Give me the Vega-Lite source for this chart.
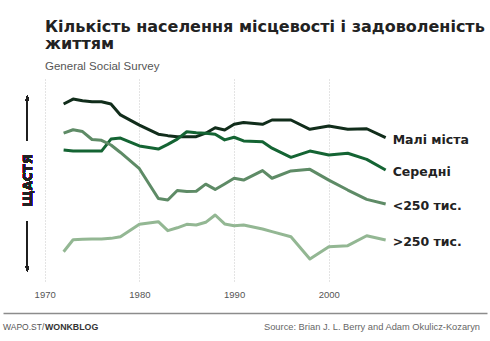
{
  "$schema": "https://vega.github.io/schema/vega-lite/v6.json",
  "background": "#ffffff",
  "padding": {"left": 3, "right": 3, "top": 19, "bottom": 0},
  "config": {"view": {"stroke": null}, "font": "Liberation Sans"},
  "title": {
    "text": ["Кількість населення місцевості і задоволеність", "життям"],
    "subtitle": "General Social Survey",
    "anchor": "start",
    "dx": 42,
    "font": "DejaVu Sans",
    "fontSize": 16,
    "fontWeight": "bold",
    "color": "#222222",
    "lineHeight": 17,
    "subtitleFont": "Liberation Sans",
    "subtitleFontSize": 11.5,
    "subtitleColor": "#555555",
    "subtitlePadding": 8.5,
    "offset": 7
  },
  "datasets": {
    "happy": [
      {"year":1972,"series":"Малі міста","value":87.7},{"year":1973,"series":"Малі міста","value":90.1},{"year":1974,"series":"Малі міста","value":89.3},{"year":1975,"series":"Малі міста","value":88.8},{"year":1976,"series":"Малі міста","value":88.8},{"year":1977,"series":"Малі міста","value":87.7},{"year":1978,"series":"Малі міста","value":82.3},{"year":1980,"series":"Малі міста","value":77.3},{"year":1982,"series":"Малі міста","value":72.8},{"year":1983,"series":"Малі міста","value":72.1},{"year":1984,"series":"Малі міста","value":71.6},{"year":1985,"series":"Малі міста","value":71.6},{"year":1986,"series":"Малі міста","value":71.6},{"year":1987,"series":"Малі міста","value":73.3},{"year":1988,"series":"Малі міста","value":76.0},{"year":1989,"series":"Малі міста","value":74.9},{"year":1990,"series":"Малі міста","value":77.7},{"year":1991,"series":"Малі міста","value":78.6},{"year":1993,"series":"Малі міста","value":77.7},{"year":1994,"series":"Малі міста","value":79.8},{"year":1996,"series":"Малі міста","value":79.8},{"year":1998,"series":"Малі міста","value":75.2},{"year":2000,"series":"Малі міста","value":76.8},{"year":2002,"series":"Малі міста","value":75.2},{"year":2004,"series":"Малі міста","value":75.5},{"year":2006,"series":"Малі міста","value":71.1},
      {"year":1972,"series":"Середні","value":65.0},{"year":1973,"series":"Середні","value":64.5},{"year":1974,"series":"Середні","value":64.5},{"year":1975,"series":"Середні","value":64.5},{"year":1976,"series":"Середні","value":64.5},{"year":1977,"series":"Середні","value":70.4},{"year":1978,"series":"Середні","value":70.9},{"year":1980,"series":"Середні","value":67.0},{"year":1982,"series":"Середні","value":65.5},{"year":1983,"series":"Середні","value":67.8},{"year":1984,"series":"Середні","value":70.4},{"year":1985,"series":"Середні","value":74.0},{"year":1986,"series":"Середні","value":73.5},{"year":1987,"series":"Середні","value":73.3},{"year":1988,"series":"Середні","value":72.8},{"year":1989,"series":"Середні","value":70.0},{"year":1990,"series":"Середні","value":71.3},{"year":1991,"series":"Середні","value":69.5},{"year":1993,"series":"Середні","value":69.1},{"year":1994,"series":"Середні","value":65.9},{"year":1996,"series":"Середні","value":61.4},{"year":1998,"series":"Середні","value":64.5},{"year":2000,"series":"Середні","value":62.6},{"year":2002,"series":"Середні","value":63.4},{"year":2004,"series":"Середні","value":60.4},{"year":2006,"series":"Середні","value":55.2},
      {"year":1972,"series":"<250 тис.","value":73.3},{"year":1973,"series":"<250 тис.","value":75.0},{"year":1974,"series":"<250 тис.","value":74.1},{"year":1975,"series":"<250 тис.","value":70.2},{"year":1976,"series":"<250 тис.","value":69.8},{"year":1977,"series":"<250 тис.","value":67.5},{"year":1978,"series":"<250 тис.","value":63.8},{"year":1980,"series":"<250 тис.","value":55.8},{"year":1982,"series":"<250 тис.","value":41.1},{"year":1983,"series":"<250 тис.","value":40.4},{"year":1984,"series":"<250 тис.","value":45.1},{"year":1985,"series":"<250 тис.","value":44.6},{"year":1986,"series":"<250 тис.","value":44.7},{"year":1987,"series":"<250 тис.","value":48.2},{"year":1988,"series":"<250 тис.","value":45.6},{"year":1989,"series":"<250 тис.","value":48.3},{"year":1990,"series":"<250 тис.","value":51.1},{"year":1991,"series":"<250 тис.","value":50.2},{"year":1993,"series":"<250 тис.","value":54.9},{"year":1994,"series":"<250 тис.","value":51.1},{"year":1996,"series":"<250 тис.","value":54.7},{"year":1998,"series":"<250 тис.","value":55.5},{"year":2000,"series":"<250 тис.","value":50.2},{"year":2002,"series":"<250 тис.","value":45.3},{"year":2004,"series":"<250 тис.","value":40.7},{"year":2006,"series":"<250 тис.","value":38.4},
      {"year":1972,"series":">250 тис.","value":14.9},{"year":1973,"series":">250 тис.","value":20.8},{"year":1974,"series":">250 тис.","value":21.0},{"year":1975,"series":">250 тис.","value":21.2},{"year":1976,"series":">250 тис.","value":21.2},{"year":1977,"series":">250 тис.","value":21.5},{"year":1978,"series":">250 тис.","value":22.3},{"year":1980,"series":">250 тис.","value":28.5},{"year":1982,"series":">250 тис.","value":29.7},{"year":1983,"series":">250 тис.","value":25.3},{"year":1984,"series":">250 тис.","value":26.7},{"year":1985,"series":">250 тис.","value":28.4},{"year":1986,"series":">250 тис.","value":28.1},{"year":1987,"series":">250 тис.","value":29.4},{"year":1988,"series":">250 тис.","value":33.0},{"year":1989,"series":">250 тис.","value":28.6},{"year":1990,"series":">250 тис.","value":27.7},{"year":1991,"series":">250 тис.","value":28.1},{"year":1993,"series":">250 тис.","value":26.1},{"year":1994,"series":">250 тис.","value":24.8},{"year":1996,"series":">250 тис.","value":22.3},{"year":1998,"series":">250 тис.","value":11.3},{"year":2000,"series":">250 тис.","value":17.4},{"year":2002,"series":">250 тис.","value":17.9},{"year":2004,"series":">250 тис.","value":22.8},{"year":2006,"series":">250 тис.","value":20.7}
    ],
    "footer": [{"k": 1}]
  },
  "spacing": 14,
  "vconcat": [
    {
      "width": 484,
      "height": 203,
      "data": {"name": "happy"},
      "layer": [
        {
          "mark": {"type": "line", "strokeWidth": 3, "strokeJoin": "round", "strokeCap": "butt"},
          "encoding": {
            "x": {"field": "year", "type": "quantitative",
                  "scale": {"domain": [1965.6, 2016.7], "nice": false, "zero": false},
                  "axis": {"values": [1970, 1980, 1990, 2000], "format": "d", "title": null,
                           "domain": false, "ticks": false, "grid": true, "gridColor": "#c8c8c8",
                           "gridDash": [1, 2], "gridWidth": 1, "labelFontSize": 9.5,
                           "labelColor": "#555555", "labelPadding": 7, "labelFont": "Liberation Sans"}},
            "y": {"field": "value", "type": "quantitative",
                  "scale": {"domain": [0, 100], "nice": false, "zero": false}, "axis": null},
            "color": {"field": "series", "type": "nominal", "legend": null,
                      "scale": {"domain": ["Малі міста", "Середні", "<250 тис.", ">250 тис."],
                                "range": ["#112d1b", "#146433", "#5e8b66", "#93b793"]}}
          }
        },
        {
          "transform": [{"filter": "datum.year == 2006"}],
          "mark": {"type": "text", "align": "left", "baseline": "middle", "dx": 7, "dy": 2,
                   "font": "DejaVu Sans", "fontWeight": "bold", "fontSize": 12.5, "color": "#222222"},
          "encoding": {
            "x": {"field": "year", "type": "quantitative"},
            "y": {"field": "value", "type": "quantitative"},
            "text": {"field": "series"}
          }
        },
        {
          "mark": {"type": "text", "text": "ЩАСТЯ", "angle": 270, "align": "center", "baseline": "middle",
                   "font": "DejaVu Sans", "fontWeight": "bold", "fontSize": 12, "color": "#222222"},
          "encoding": {
            "x": {"datum": 1968.2, "type": "quantitative"},
            "y": {"datum": 50, "type": "quantitative"}
          }
        },
        {
          "mark": {"type": "rule", "color": "#222222", "strokeWidth": 1},
          "encoding": {
            "x": {"datum": 1968.17, "type": "quantitative"},
            "y": {"datum": 91.5, "type": "quantitative"},
            "y2": {"datum": 69.5}
          }
        },
        {
          "mark": {"type": "rule", "color": "#222222", "strokeWidth": 1},
          "encoding": {
            "x": {"datum": 1968.17, "type": "quantitative"},
            "y": {"datum": 29.6, "type": "quantitative"},
            "y2": {"datum": 5.5}
          }
        },
        {
          "mark": {"type": "point", "filled": true, "color": "#222222", "opacity": 1, "size": 49,
                   "shape": "M0,-1L0.45,0.5L0,0.25L-0.45,0.5Z"},
          "encoding": {
            "x": {"datum": 1968.17, "type": "quantitative"},
            "y": {"datum": 90.3, "type": "quantitative"}
          }
        },
        {
          "mark": {"type": "point", "filled": true, "color": "#222222", "opacity": 1, "size": 49,
                   "shape": "M0,1L0.45,-0.5L0,-0.25L-0.45,-0.5Z"},
          "encoding": {
            "x": {"datum": 1968.17, "type": "quantitative"},
            "y": {"datum": 6.75, "type": "quantitative"}
          }
        }
      ]
    },
    {
      "width": 484,
      "height": 28,
      "data": {"name": "footer"},
      "encoding": {
        "x": {"datum": 0, "type": "quantitative",
              "scale": {"domain": [0, 1], "nice": false, "zero": false},
              "axis": {"orient": "top", "labels": false, "ticks": false, "grid": false, "title": null,
                       "domain": true, "domainColor": "#8c8c8c", "domainWidth": 1.5}}
      },
      "layer": [
        {
          "mark": {"type": "text", "text": "WAPO.ST/", "align": "left", "baseline": "middle",
                   "fontSize": 8.5, "color": "#555555", "font": "Liberation Sans"}
        },
        {
          "mark": {"type": "text", "text": "WONKBLOG", "align": "left", "baseline": "middle", "dx": 42,
                   "fontSize": 8.8, "fontWeight": "bold", "color": "#333333", "font": "Liberation Sans"}
        },
        {
          "mark": {"type": "text", "text": "Source: Brian J. L. Berry and Adam Okulicz-Kozaryn",
                   "align": "right", "baseline": "middle", "dx": -7,
                   "fontSize": 9.3, "color": "#666666", "font": "Liberation Sans"},
          "encoding": {"x": {"datum": 1, "type": "quantitative"}}
        }
      ]
    }
  ]
}
